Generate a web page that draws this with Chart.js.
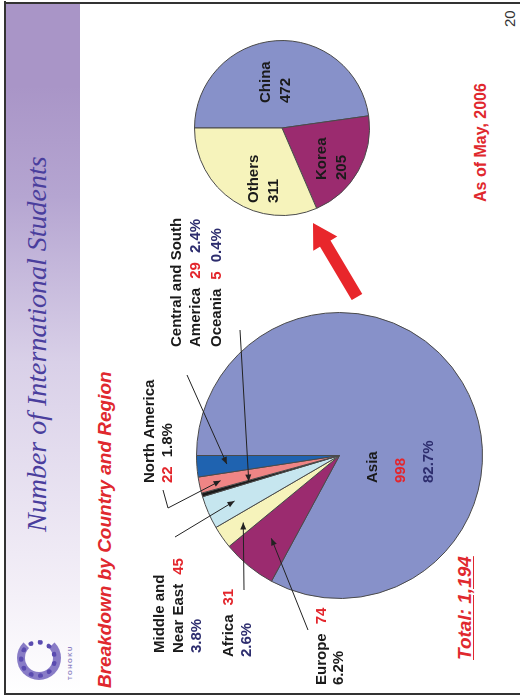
<!DOCTYPE html>
<html>
<head>
<meta charset="utf-8">
<script src="https://cdn.jsdelivr.net/npm/chart.js"></script>
<style>
  html, body { margin: 0; padding: 0; background: #fff; }
  body { width: 520px; height: 696px; overflow: hidden; position: relative; }
  /* the slide is laid out landscape and turned a quarter to the left */
  #slide { position: absolute; left: 0; top: 0; width: 696px; height: 520px;
    transform-origin: 0 0; transform: translateY(696px) rotate(-90deg);
    font-family: "Liberation Sans", Arial, sans-serif; background: #fff; }
  #bar { position: absolute; left: 2px; top: 5px; width: 691px; height: 75px;
    background: linear-gradient(to right, #ffffff 0%, #f4f0f8 14%, #d9d0e8 48%, #b5a5d1 72%, #a995c7 88%); }
  .frame { position: absolute; background: #333; }
  #title { position: absolute; left: 164px; top: 22px; white-space: nowrap;
    font: italic 28px "Liberation Serif", "DejaVu Serif", serif; color: #4a3e9d; line-height: 30px; }
  #subtitle { position: absolute; left: 8px; top: 94px; white-space: nowrap;
    font: italic bold 19px "Liberation Sans", Arial, sans-serif; color: #e0282e; line-height: 22px; }
  #total { position: absolute; left: 36px; top: 454px; white-space: nowrap;
    font: italic bold 19px "Liberation Sans", Arial, sans-serif; color: #e0282e; line-height: 22px;
    text-decoration: underline; text-underline-offset: 2px; }
  #asof { position: absolute; left: 494px; top: 472px; white-space: nowrap;
    font: bold 16px "Liberation Sans", Arial, sans-serif; color: #e0282e; line-height: 18px; }
  #pageno { position: absolute; left: 669px; top: 502px; font: 15px "Liberation Sans", Arial, sans-serif; color: #333; line-height: 16px; }
  #logo { position: absolute; left: 16px; top: 17px; width: 28px; height: 28px; border-radius: 50%;
    border: 8px solid rgba(98, 82, 180, 0.75); border-right-color: transparent; }
  #logo2 { position: absolute; left: 18px; top: 19px; width: 28px; height: 28px; border-radius: 50%;
    border: 5px dotted #5a4bb0; }
  #logotext { position: absolute; left: 16px; top: 67px; font: bold 6px "Liberation Sans", Arial, sans-serif;
    color: #8a80c2; letter-spacing: 1.5px; }
  canvas { position: absolute; left: 0; top: 0; }
</style>
</head>
<body>
<div id="slide">
  <div id="bar"></div>
  <div class="frame" style="left:1px;top:4px;width:694px;height:2px"></div>
  <div class="frame" style="left:1px;top:4px;width:2px;height:516px"></div>
  <div class="frame" style="left:692px;top:4px;width:2px;height:516px"></div>
  <div id="logo"></div>
  <div id="logo2"></div>
  <div id="logotext">TOHOKU</div>
  <div id="title">Number of International Students</div>
  <div id="subtitle">Breakdown by Country and Region</div>
  <div id="total"></div>
  <div id="asof"></div>
  <div id="pageno">20</div>
  <canvas id="regionPie" width="696" height="520"></canvas>
  <canvas id="asiaPie" width="696" height="520"></canvas>
</div>
<script>
const regions = ['Asia', 'Europe', 'Africa', 'Middle and Near East', 'Oceania', 'North America', 'Central and South America'];
const students = [998, 74, 31, 45, 5, 22, 29];
const shares = ['82.7%', '6.2%', '2.6%', '3.8%', '0.4%', '1.8%', '2.4%'];
const asiaCountries = ['China', 'Korea', 'Others'];
const asiaStudents = [472, 205, 311];
const totalStudents = '1,194';
const asOfDate = 'May, 2006';

const RED = '#e3262c', NAVY = '#2d2d6e', INK = '#1a1a1a';
const regionColors = ['#8791c9', '#9b2b6f', '#f6f3bb', '#c6e6ef', '#1a1a1a', '#ef8585', '#1f63b0'];
const asiaColors = ['#8791c9', '#9b2b6f', '#f6f3bb'];

document.getElementById('total').textContent = 'Total: ' + totalStudents;
document.getElementById('asof').textContent = 'As of ' + asOfDate;

// callout layout: rows of pieces ('n0' first name line, 'n1' second, 'v' value, 'p' share)
const callouts = [
  { i: 0, wrap: 9, x: 213, y: 373, step: 28, rows: [['n0'], ['v'], ['p']], pc: NAVY },
  { i: 1, wrap: 9, x: 11, y: 322, step: 17, rows: [['n0', 'v'], ['p']], pc: INK, tail: [[66, 308]], depth: 0.75 },
  { i: 2, wrap: 9, x: 39, y: 229, step: 18, rows: [['n0', 'v'], ['p']], pc: NAVY, tail: [[106, 244]], depth: 0.82 },
  { i: 3, wrap: 2, x: 43, y: 160, step: 18.5, rows: [['n0'], ['n1', 'v'], ['p']], pc: NAVY, tail: [[159, 175]], depth: 0.8 },
  { i: 4, wrap: 9, x: 349, y: 217, step: 18, rows: [['n0', 'v', 'p']], pc: NAVY, tail: [[366, 240]], depth: 0.66 },
  { i: 5, wrap: 9, x: 213, y: 150, step: 18, rows: [['n0'], ['v', 'p']], pc: INK, tail: [[206, 163], [188, 168]], depth: 0.85 },
  { i: 6, wrap: 3, x: 349, y: 177, step: 19, rows: [['n0'], ['n1', 'v', 'p']], pc: NAVY, tail: [[321, 187]], depth: 0.79 }
];

function piece(c, key) {
  const words = regions[c.i].split(' ');
  if (key === 'n0') return [words.slice(0, c.wrap).join(' '), INK];
  if (key === 'n1') return [words.slice(c.wrap).join(' '), INK];
  if (key === 'v') return [String(students[c.i]), RED];
  return [shares[c.i], c.pc];
}

function arrowHead(ctx, from, to, len, half) {
  const a = Math.atan2(to[1] - from[1], to[0] - from[0]);
  ctx.beginPath();
  ctx.moveTo(to[0], to[1]);
  ctx.lineTo(to[0] - len * Math.cos(a) + half * Math.sin(a), to[1] - len * Math.sin(a) - half * Math.cos(a));
  ctx.lineTo(to[0] - len * Math.cos(a) - half * Math.sin(a), to[1] - len * Math.sin(a) + half * Math.cos(a));
  ctx.closePath();
  ctx.fill();
}

const calloutPlugin = {
  id: 'callouts',
  afterDraw(chart) {
    const ctx = chart.ctx;
    const arcs = chart.getDatasetMeta(0).data;
    ctx.save();
    ctx.font = 'bold 15px "Liberation Sans", Arial, sans-serif';
    ctx.textBaseline = 'middle';
    callouts.forEach(c => {
      c.rows.forEach((row, r) => {
        let x = c.x;
        row.forEach(key => {
          const [txt, col] = piece(c, key);
          ctx.fillStyle = col;
          ctx.fillText(txt, x, c.y + r * c.step);
          x += ctx.measureText(txt).width + 9;
        });
      });
      if (!c.tail) return;
      const arc = arcs[c.i];
      const mid = (arc.startAngle + arc.endAngle) / 2;
      const end = [arc.x + Math.cos(mid) * arc.outerRadius * c.depth, arc.y + Math.sin(mid) * arc.outerRadius * c.depth];
      const pts = c.tail.concat([end]);
      ctx.strokeStyle = '#222';
      ctx.fillStyle = '#222';
      ctx.lineWidth = 1;
      ctx.beginPath();
      ctx.moveTo(pts[0][0], pts[0][1]);
      pts.slice(1).forEach(p => ctx.lineTo(p[0], p[1]));
      ctx.stroke();
      arrowHead(ctx, pts[pts.length - 2], end, 7, 3);
    });
    // red arrow pointing from the big pie to the Asia breakdown
    ctx.fillStyle = '#e8262b';
    const from = [399, 357], to = [473, 313];
    const a = Math.atan2(to[1] - from[1], to[0] - from[0]);
    const hl = 24, sw = 6, hw = 14;
    const bx = to[0] - hl * Math.cos(a), by = to[1] - hl * Math.sin(a);
    const nx = Math.sin(a), ny = -Math.cos(a);
    ctx.beginPath();
    ctx.moveTo(from[0] + nx * sw, from[1] + ny * sw);
    ctx.lineTo(bx + nx * sw, by + ny * sw);
    ctx.lineTo(bx + nx * hw, by + ny * hw);
    ctx.lineTo(to[0], to[1]);
    ctx.lineTo(bx - nx * hw, by - ny * hw);
    ctx.lineTo(bx - nx * sw, by - ny * sw);
    ctx.lineTo(from[0] - nx * sw, from[1] - ny * sw);
    ctx.closePath();
    ctx.fill();
    ctx.restore();
  }
};

const asiaLabelSpots = [[593, 266], [516, 322], [493, 254]];

const asiaLabelPlugin = {
  id: 'asiaLabels',
  afterDraw(chart) {
    const ctx = chart.ctx;
    ctx.save();
    ctx.font = 'bold 15px "Liberation Sans", Arial, sans-serif';
    ctx.textBaseline = 'middle';
    ctx.fillStyle = INK;
    asiaCountries.forEach((name, k) => {
      const [x, y] = asiaLabelSpots[k];
      ctx.fillText(name, x, y);
      ctx.fillText(String(asiaStudents[k]), x, y + 20);
    });
    ctx.restore();
  }
};

const common = {
  responsive: false,
  animation: false,
  events: [],
  plugins: { legend: { display: false }, tooltip: { enabled: false } }
};

new Chart(document.getElementById('regionPie'), {
  type: 'pie',
  data: {
    labels: regions,
    datasets: [{ data: students, backgroundColor: regionColors, borderColor: '#4a4a4a', borderWidth: 1 }]
  },
  options: Object.assign({}, common, { layout: { padding: { left: 97, top: 196, right: 312, bottom: 37 } } }),
  plugins: [calloutPlugin]
});

new Chart(document.getElementById('asiaPie'), {
  type: 'pie',
  data: {
    labels: asiaCountries,
    datasets: [{ data: asiaStudents, backgroundColor: asiaColors, borderColor: '#4a4a4a', borderWidth: 1 }]
  },
  options: Object.assign({}, common, { layout: { padding: { left: 480, top: 194, right: 40, bottom: 150 } } }),
  plugins: [asiaLabelPlugin]
});
</script>
</body>
</html>
